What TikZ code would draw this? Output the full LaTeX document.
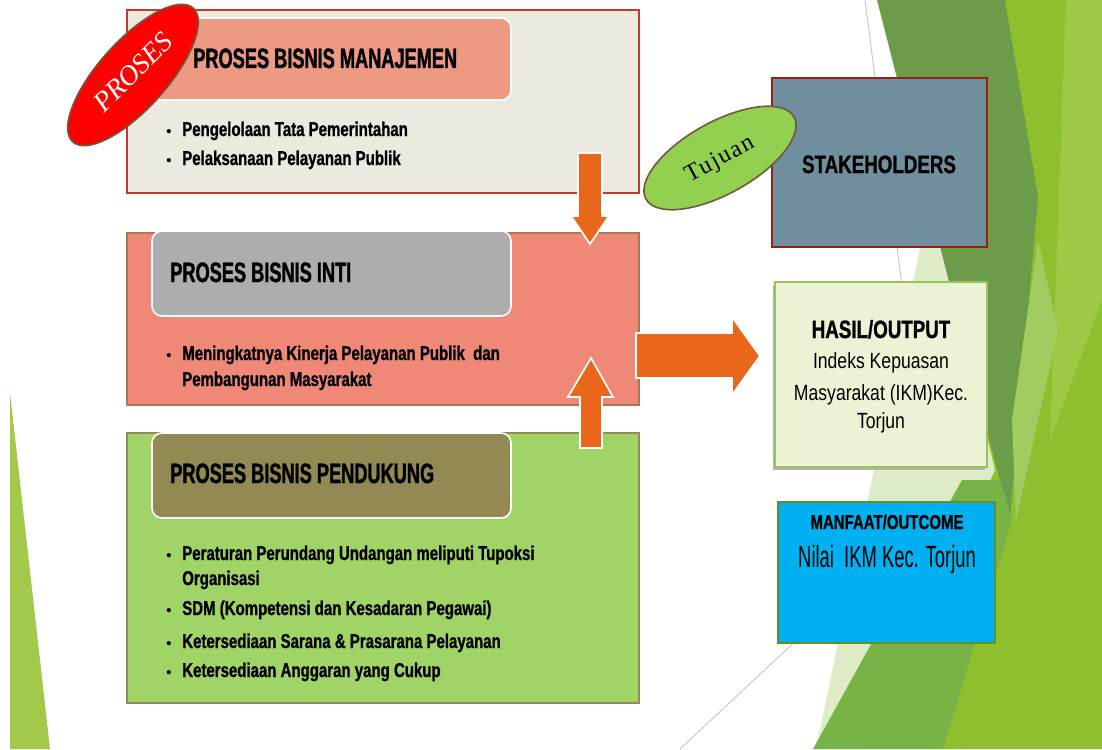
\documentclass[tikz,border=0pt]{standalone}
\usepackage{fontspec}
\setmainfont{Liberation Sans}
\newfontfamily\fH[FakeStretch=0.65,FakeBold=1.2]{Liberation Sans}
\newfontfamily\fB[FakeStretch=0.75,FakeBold=1]{Liberation Sans}
\newfontfamily\fC[FakeStretch=0.8]{Liberation Sans}
\newfontfamily\fD[FakeStretch=0.6]{Liberation Sans}
\newfontfamily\fS{Liberation Serif}
\newfontfamily\fT[LetterSpace=6]{Liberation Serif}
\usetikzlibrary{shapes.geometric}
\definecolor{bgLime}{HTML}{8EBF2E}
\definecolor{bgLight}{HTML}{9DC944}
\definecolor{bgPale}{HTML}{DDEBC6}
\definecolor{bgDark}{HTML}{6C9C4A}
\definecolor{bgMed}{HTML}{78B347}
\definecolor{bgSoft}{HTML}{A2CB60}
\definecolor{bgLeft}{HTML}{A3C94B}
\definecolor{boxA}{HTML}{ECE9DF}
\definecolor{hdrA}{HTML}{EE9A82}
\definecolor{lineA}{HTML}{C8382A}
\definecolor{boxB}{HTML}{F08878}
\definecolor{hdrB}{HTML}{ADADAD}
\definecolor{lineB}{HTML}{A8784E}
\definecolor{boxC}{HTML}{A0D466}
\definecolor{hdrC}{HTML}{938953}
\definecolor{lineC}{HTML}{948B5A}
\definecolor{stakeFill}{HTML}{6F8F9F}
\definecolor{stakeLine}{HTML}{A01E0E}
\definecolor{hasilFill}{HTML}{EAF4D4}
\definecolor{hasilLine}{HTML}{9BC15A}
\definecolor{manFill}{HTML}{00B0F0}
\definecolor{manLine}{HTML}{6B8E23}
\definecolor{orangeA}{HTML}{E8671A}
\definecolor{ellLine}{HTML}{6E5A3A}
\definecolor{tujFill}{HTML}{92D050}
\begin{document}
\begin{tikzpicture}[x=0.75pt,y=-0.75pt,
  outerbox/.style={line width=1.5pt},
  hdrbox/.style={draw=white,line width=1.2pt,rounded corners=7.5pt},
  hdrtext/.style={anchor=base west,inner sep=0pt,font=\fH\bfseries\fontsize{21pt}{24pt}\selectfont},
  bultext/.style={anchor=base west,inner sep=0pt,font=\fB\bfseries\fontsize{15pt}{18pt}\selectfont},
  bulmark/.style={anchor=base west,inner sep=0pt,font=\bfseries\fontsize{11pt}{12pt}\selectfont},
  blockarrow/.style={fill=orangeA,draw=white,line width=1.3pt},
  ctext/.style={anchor=base,inner sep=0pt}]
\useasboundingbox (0,0) rectangle (1102,749);
\fill[white] (0,0) rectangle (1102,749);
% background facets
\draw[draw=black!25,line width=0.6pt] (680,749) -- (1000,450);
\draw[draw=black!25,line width=0.6pt] (865,0) -- (962,749);
\fill[bgLime] (960,0) -- (1102,0) -- (1102,749) -- (932,749) -- cycle;
\fill[bgLight] (1066,0) -- (1102,0) -- (1102,300) -- (1050,440) -- cycle;
\fill[bgPale] (930,200) -- (995,470) -- (866,749) -- (816,749) -- cycle;
\fill[bgDark] (877,0) -- (1005,0) -- (1038,197) -- (1010,520) -- cycle;
\fill[bgSoft] (1038,240) -- (1058,330) -- (1016,520) -- (1012,420) -- cycle;
\fill[bgMed] (813,749) -- (943,749) -- (1012,520) -- (1000,480) -- (962,480) -- cycle;
\fill[bgLeft] (10,393) -- (50,749) -- (10,749) -- cycle;
% box 1
\path[outerbox,fill=boxA,draw=lineA] (127,10) rectangle (639,193);
\path[hdrbox,fill=hdrA] (152,18) rectangle (511,100);
\node[hdrtext] (h1) at (193,68) {PROSES BISNIS MANAJEMEN};
\node[bulmark] (m11) at (166,136) {•};
\node[bultext] (t11) at (182,136) {Pengelolaan Tata Pemerintahan};
\node[bulmark] (m12) at (166,165) {•};
\node[bultext] (t12) at (182,165) {Pelaksanaan Pelayanan Publik};
% PROSES ellipse
\node[ellipse,draw=ellLine,fill=red,line width=1.2pt,rotate=48,
  minimum width=135pt,minimum height=51pt,inner sep=0pt] (pe) at (133,75) {};
\node[rotate=45,text=white,font=\fS\itshape\fontsize{21pt}{22pt}\selectfont,inner sep=0pt] (pt) at (133,72) {PROSES};
% box 2
\path[line width=1pt,fill=boxB,draw=lineB] (127,233) rectangle (639,405);
\path[hdrbox,fill=hdrB] (152,231) rectangle (511,316);
\node[hdrtext] (h2) at (170,282) {PROSES BISNIS INTI};
\node[bulmark] (m21) at (166,360) {•};
\node[bultext] (t21) at (182,360) {Meningkatnya Kinerja Pelayanan Publik\ \ dan};
\node[bultext] (t22) at (182,386) {Pembangunan Masyarakat};
% box 3
\path[line width=1.2pt,fill=boxC,draw=lineC] (127,433) rectangle (639,703);
\path[hdrbox,fill=hdrC] (152,433) rectangle (511,518);
\node[hdrtext] (h3) at (170,483) {PROSES BISNIS PENDUKUNG};
\node[bulmark] (m31) at (166,560) {•};
\node[bultext] (t31) at (182,560) {Peraturan Perundang Undangan meliputi Tupoksi};
\node[bultext] (t32) at (182,585) {Organisasi};
\node[bulmark] (m33) at (166,615) {•};
\node[bultext] (t33) at (182,615) {SDM (Kompetensi dan Kesadaran Pegawai)};
\node[bulmark] (m34) at (166,648) {•};
\node[bultext] (t34) at (182,648) {Ketersediaan Sarana \& Prasarana Pelayanan};
\node[bulmark] (m35) at (166,677) {•};
\node[bultext] (t35) at (182,677) {Ketersediaan Anggaran yang Cukup};
% block arrows
\path[blockarrow] (578,153) -- (602,153) -- (602,216) -- (609,216) -- (590,244) -- (571,216) -- (578,216) -- cycle;
\path[blockarrow] (580,448) -- (602,448) -- (602,397) -- (613,397) -- (591,358) -- (568,397) -- (580,397) -- cycle;
\path[blockarrow] (636,333) -- (732,333) -- (732,317) -- (760,356) -- (732,395) -- (732,378) -- (636,378) -- cycle;
% stakeholders
\path[line width=1.5pt,fill=stakeFill,draw=stakeLine] (772,78) rectangle (987,247);
\node[ctext,font=\fB\bfseries\fontsize{18.75pt}{20pt}\selectfont] (st) at (879,173) {STAKEHOLDERS};
% Tujuan ellipse
\node[ellipse,draw=ellLine,fill=tujFill,line width=1.2pt,rotate=29,
  minimum width=127pt,minimum height=54pt,inner sep=0pt] (te) at (720,158) {};
\node[rotate=28,font=\fT\fontsize{18pt}{20pt}\selectfont,inner sep=0pt] (tt) at (720,160) {Tujuan};
% hasil
\fill[black!30] (773,285) rectangle (985,470);
\path[line width=1.2pt,fill=hasilFill,draw=hasilLine] (775,282) rectangle (987,467);
\node[ctext,font=\fB\bfseries\fontsize{18.75pt}{20pt}\selectfont] (ha) at (881,338) {HASIL/OUTPUT};
\node[ctext,font=\fC\fontsize{16.5pt}{18pt}\selectfont] (hb) at (881,368) {Indeks Kepuasan};
\node[ctext,font=\fC\fontsize{16.5pt}{18pt}\selectfont] (hc) at (881,400) {Masyarakat (IKM)Kec.};
\node[ctext,font=\fC\fontsize{16.5pt}{18pt}\selectfont] (hd) at (881,428) {Torjun};
% manfaat
\path[line width=1.5pt,fill=manFill,draw=manLine] (778,502) rectangle (995,643);
\node[ctext,font=\fB\bfseries\fontsize{15pt}{16pt}\selectfont] (ma) at (887,529) {MANFAAT/OUTCOME};
\node[ctext,font=\fD\fontsize{23pt}{24pt}\selectfont] (mb) at (887,567) {Nilai\ \ IKM Kec. Torjun};
\end{tikzpicture}
\end{document}
